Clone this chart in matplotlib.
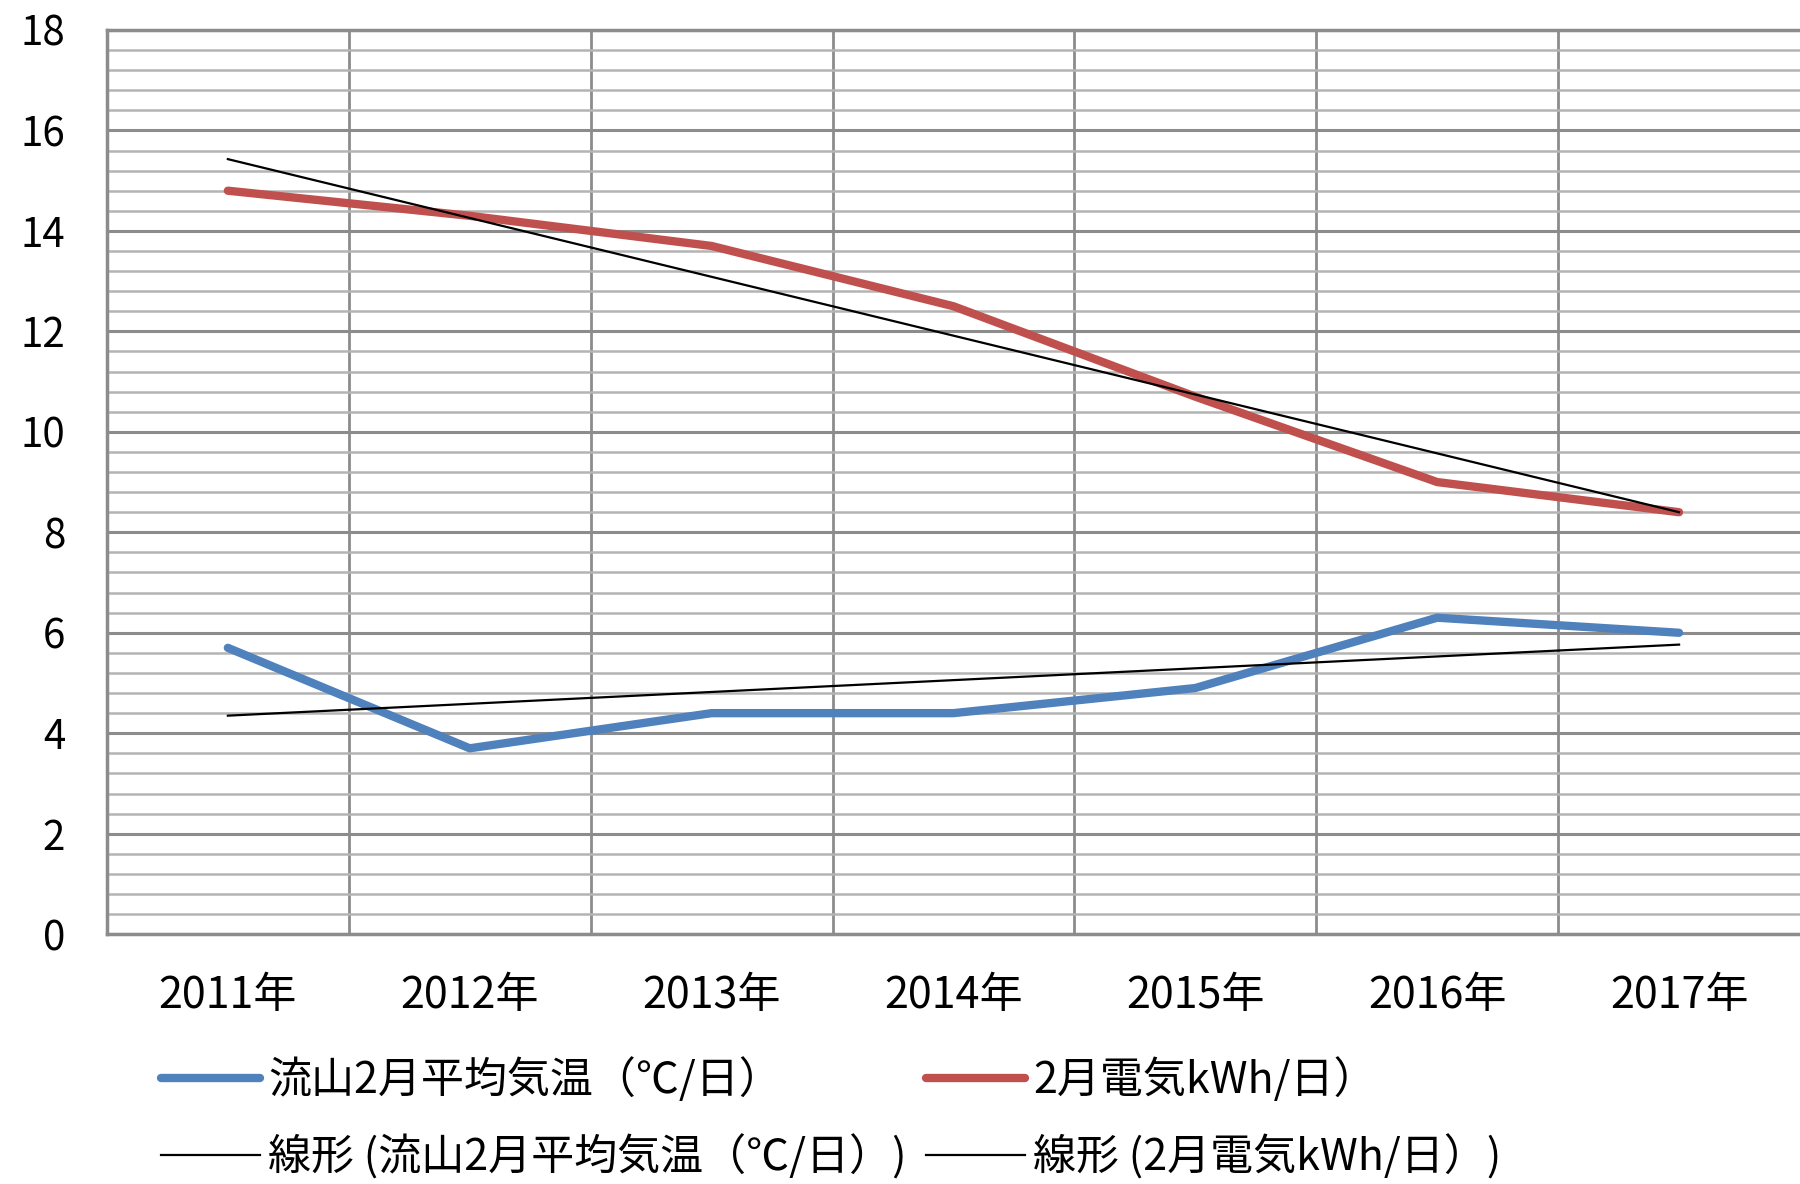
import numpy as np
import matplotlib
matplotlib.use('Agg')
from matplotlib import pyplot as plt
from matplotlib.ticker import MultipleLocator

plt.rcParams['font.family'] = ['Noto Sans CJK JP', 'DejaVu Sans']

# data
years = ['2011年', '2012年', '2013年', '2014年', '2015年', '2016年', '2017年']
temp = [5.7, 3.7, 4.4, 4.4, 4.9, 6.3, 6.0]          # 流山2月平均気温
power = [14.8, 14.3, 13.7, 12.5, 10.7, 9.0, 8.4]    # 2月電気kWh/日
label_temp = '流山2月平均気温（℃/日）'
label_power = '2月電気kWh/日）'

x = np.arange(1, len(years) + 1)

# linear trend lines (Excel "線形")
ft = np.polyfit(x, temp, 1)
fp = np.polyfit(x, power, 1)

fig = plt.figure(figsize=(18, 11.84), dpi=100)
ax = fig.add_axes([0.0594, 0.211, 0.9406, 0.7637])

l1, = ax.plot(x, temp, color='#4F81BD', lw=6, solid_capstyle='round', zorder=3)
l2, = ax.plot(x, power, color='#C0504D', lw=6, solid_capstyle='round', zorder=3)
t1, = ax.plot(x, np.polyval(ft, x), color='black', lw=1.6, zorder=4)
t2, = ax.plot(x, np.polyval(fp, x), color='black', lw=1.6, zorder=4)

ax.set_xlim(0.5, len(years) + 0.5)
ax.set_ylim(0, 18)
ax.set_xticks(x)
ax.set_xticklabels(years, fontsize=31)
ax.set_xticks(np.arange(1.5, len(years), 1), minor=True)
ax.yaxis.set_major_locator(MultipleLocator(2))
ax.yaxis.set_minor_locator(MultipleLocator(0.4))
ax.tick_params(axis='y', which='major', labelsize=29, length=0, pad=30)
ax.tick_params(axis='x', which='major', length=0, pad=29)
ax.tick_params(which='minor', length=0)

ax.xaxis.grid(True, which='minor', color='#8c8c8c', lw=2)
ax.yaxis.grid(True, which='major', color='#8c8c8c', lw=2.2)
ax.yaxis.grid(True, which='minor', color='#b4b4b4', lw=1.8)
ax.set_axisbelow(True)

for s in ['left', 'bottom', 'top']:
    ax.spines[s].set_color('#8c8c8c')
    ax.spines[s].set_linewidth(2.5)
ax.spines['right'].set_visible(False)

fig.legend([l1, t1, l2, t2],
           [label_temp, '線形 (' + label_temp + ')', label_power, '線形 (' + label_power + ')'],
           ncol=2, loc='upper left', bbox_to_anchor=(0.0894, 0.106),
           frameon=False, fontsize=31, borderpad=0, borderaxespad=0,
           handlelength=2.3, handletextpad=0.19, columnspacing=0.45,
           labelspacing=0.74)

fig.savefig('out.png', dpi=100)
